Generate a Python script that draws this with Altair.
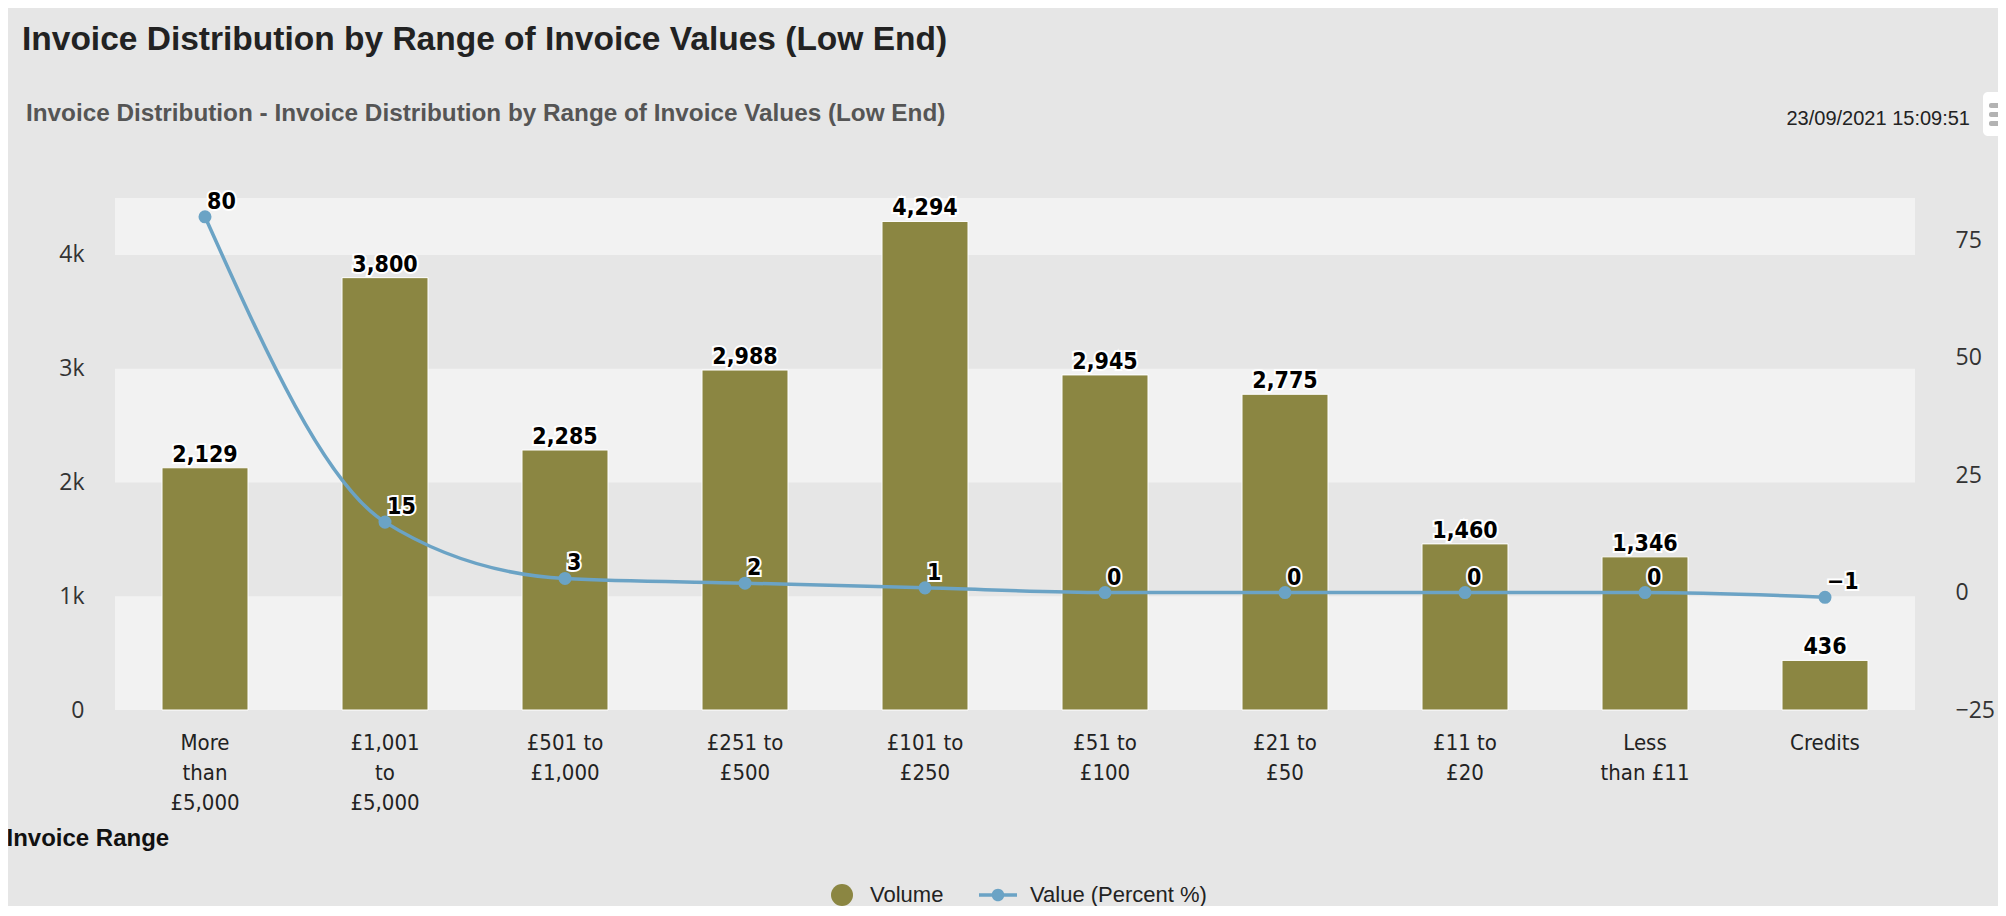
import altair as alt
import pandas as pd

# ---- data ----
tick_lines = [["More", "than", "£5,000"], ["£1,001", "to", "£5,000"], ["£501 to", "£1,000"],
              ["£251 to", "£500"], ["£101 to", "£250"], ["£51 to", "£100"], ["£21 to", "£50"],
              ["£11 to", "£20"], ["Less", "than £11"], ["Credits"]]
categories = ["\n".join(l) for l in tick_lines]
volume = [2129, 3800, 2285, 2988, 4294, 2945, 2775, 1460, 1346, 436]
value_pct = [80, 15, 3, 2, 1, 0, 0, 0, 0, -1]
series_names = ["Volume", "Value (Percent %)"]
left_ticks = [0, 1000, 2000, 3000, 4000]
right_ticks = [-25, 0, 25, 50, 75]
band_lo = [0, 2000, 4000]
band_hi = [1000, 3000, 4500]

TITLE = "Invoice Distribution by Range of Invoice Values (Low End)"
SUBTITLE = "Invoice Distribution - Invoice Distribution by Range of Invoice Values (Low End)"
STAMP = "23/09/2021 15:09:51"

W, H = 1800, 512
OLIVE = "#8b8642"
BLUE = "#6ba3c5"
LABEL_FONT = "DejaVu Sans Condensed"

df = pd.DataFrame({"cat": categories, "volume": volume, "pct": value_pct,
                   "s": series_names[0], "t": series_names[1]})
bands = pd.DataFrame({"lo": band_lo, "hi": band_hi})

x_enc = alt.X("cat:N", sort=categories,
              scale=alt.Scale(domain=categories, paddingInner=0, paddingOuter=0),
              axis=alt.Axis(title="Invoice Range", labelAngle=0, ticks=False, domain=False,
                            labelFont=LABEL_FONT, labelFontSize=22, labelColor="#222",
                            labelLineHeight=30, labelPadding=22, labelBaseline="top",
                            labelExpr="split(datum.label, '\\n')",
                            titleX=-109, titleY=128, titleAlign="left", titleAnchor="start",
                            titleBaseline="middle", titleFont="Liberation Sans",
                            titleFontSize=24, titleFontWeight="bold", titleColor="#111"))

left_scale = alt.Scale(domain=[0, 4500], nice=False, zero=True)
left_axis = alt.Axis(values=left_ticks, orient="left", grid=False, domain=False,
                     labelExpr="datum.value == 0 ? '0' : format(datum.value / 1000, 'd') + 'k'",
                     ticks=False, labelFont="Open Sans", labelFontSize=23, labelColor="#333",
                     labelPadding=31, title=None)
right_scale = alt.Scale(domain=[-25, 84], nice=False, zero=False)
right_axis = alt.Axis(values=right_ticks, orient="right", grid=False, domain=False,
                      ticks=False, labelFont="Open Sans", labelFontSize=23, labelColor="#333",
                      labelPadding=40, title=None)

band_layer = alt.Chart(bands).mark_rect(color="#f2f2f2").encode(
    x=alt.value(0), x2=alt.value(W),
    y=alt.Y("lo:Q", scale=left_scale, axis=left_axis), y2="hi:Q")

bars = alt.Chart(df).mark_bar(size=86, stroke="#ffffff", strokeWidth=1).encode(
    x=x_enc,
    y=alt.Y("volume:Q", scale=left_scale, axis=left_axis),
    color=alt.Color("s:N", scale=alt.Scale(domain=[series_names[0]], range=[OLIVE]),
                    legend=alt.Legend(orient="none", legendX=716, legendY=686, title=None,
                                      symbolType="circle", symbolSize=484, symbolStrokeWidth=0,
                                      labelFont="Liberation Sans", labelFontSize=22,
                                      labelColor="#222", labelOffset=17, padding=0,
                                      labelLimit=0)))

bar_halo = alt.Chart(df).mark_text(font=LABEL_FONT, fontSize=23, fontWeight="bold",
                                   baseline="alphabetic", dy=-6, stroke="white",
                                   strokeWidth=4, color="white").encode(
    x=x_enc, y=alt.Y("volume:Q", scale=left_scale, axis=left_axis),
    text=alt.Text("volume:Q", format=","))
bar_text = alt.Chart(df).mark_text(font=LABEL_FONT, fontSize=23, fontWeight="bold",
                                   baseline="alphabetic", dy=-6, color="#000").encode(
    x=x_enc, y=alt.Y("volume:Q", scale=left_scale, axis=left_axis),
    text=alt.Text("volume:Q", format=","))

left_layer = alt.layer(band_layer, bars, bar_halo, bar_text)

sym = ("M-1,-0.09L-0.25,-0.09L-0.25,0.09L-1,0.09Z"
       "M0.25,-0.09L1,-0.09L1,0.09L0.25,0.09Z"
       "M-0.33,0A0.33,0.33,0,1,1,0.33,0A0.33,0.33,0,1,1,-0.33,0Z")

line = alt.Chart(df).mark_line(color=BLUE, strokeWidth=3.5, interpolate="monotone").encode(
    x=x_enc, y=alt.Y("pct:Q", scale=right_scale, axis=right_axis))
pts = alt.Chart(df).mark_circle(size=170, opacity=1).encode(
    x=x_enc, y=alt.Y("pct:Q", scale=right_scale, axis=right_axis),
    fill=alt.Fill("t:N", scale=alt.Scale(domain=[series_names[1]], range=[BLUE]),
                  legend=alt.Legend(orient="none", legendX=864, legendY=678, title=None,
                                    symbolType=sym, symbolSize=1444, symbolStrokeWidth=0,
                                    labelFont="Liberation Sans", labelFontSize=22,
                                    labelColor="#222", labelOffset=13, padding=0,
                                    labelLimit=0)))
pt_halo = alt.Chart(df).mark_text(font=LABEL_FONT, fontSize=23, fontWeight="bold",
                                  align="left", baseline="middle", dx=2, dy=-15,
                                  stroke="white", strokeWidth=4, color="white").encode(
    x=x_enc, y=alt.Y("pct:Q", scale=right_scale, axis=right_axis),
    text=alt.Text("pct:Q", format=".0f"))
pt_text = alt.Chart(df).mark_text(font=LABEL_FONT, fontSize=23, fontWeight="bold",
                                  align="left", baseline="middle", dx=2, dy=-15,
                                  color="#000").encode(
    x=x_enc, y=alt.Y("pct:Q", scale=right_scale, axis=right_axis),
    text=alt.Text("pct:Q", format=".0f"))

right_layer = alt.layer(line, pts, pt_halo, pt_text)

one = alt.Data(values=[{}])
title_t = alt.Chart(one).mark_text(align="left", baseline="alphabetic", font="Liberation Sans",
                                   fontSize=33.5, fontWeight="bold", color="#222").encode(
    x=alt.value(-93), y=alt.value(-148), text=alt.value(TITLE))
sub_t = alt.Chart(one).mark_text(align="left", baseline="alphabetic", font="Liberation Sans",
                                 fontSize=24.3, fontWeight="bold", color="#555").encode(
    x=alt.value(-89), y=alt.value(-77), text=alt.value(SUBTITLE))
stamp_t = alt.Chart(one).mark_text(align="right", baseline="alphabetic", font="Liberation Sans",
                                   fontSize=20, color="#222").encode(
    x=alt.value(1855), y=alt.value(-73), text=alt.value(STAMP))

# export-menu button at the top right corner (partly outside the window, as in the reference)
menu_box = alt.Chart(one).mark_rect(color="#ffffff", cornerRadius=5).encode(
    x=alt.value(1868), x2=alt.value(1900), y=alt.value(-106), y2=alt.value(-62))
menu_rows = [alt.Chart(one).mark_rect(color="#b3b3b3", cornerRadius=2).encode(
    x=alt.value(1874), x2=alt.value(1900), y=alt.value(yy), y2=alt.value(yy + 5))
    for yy in (-95, -86, -77)]

chart = alt.layer(
    alt.layer(left_layer, right_layer).resolve_scale(y="independent"),
    title_t, sub_t, stamp_t, menu_box, *menu_rows
).properties(
    width=W, height=H,
    padding={"left": 107, "top": 190, "right": 83, "bottom": 196},
    autosize=alt.AutoSizeParams(type="none"),
    background="#e6e6e6",
).configure_view(strokeWidth=0)

chart.save("out.html", embed_options={"renderer": "svg", "actions": False})
